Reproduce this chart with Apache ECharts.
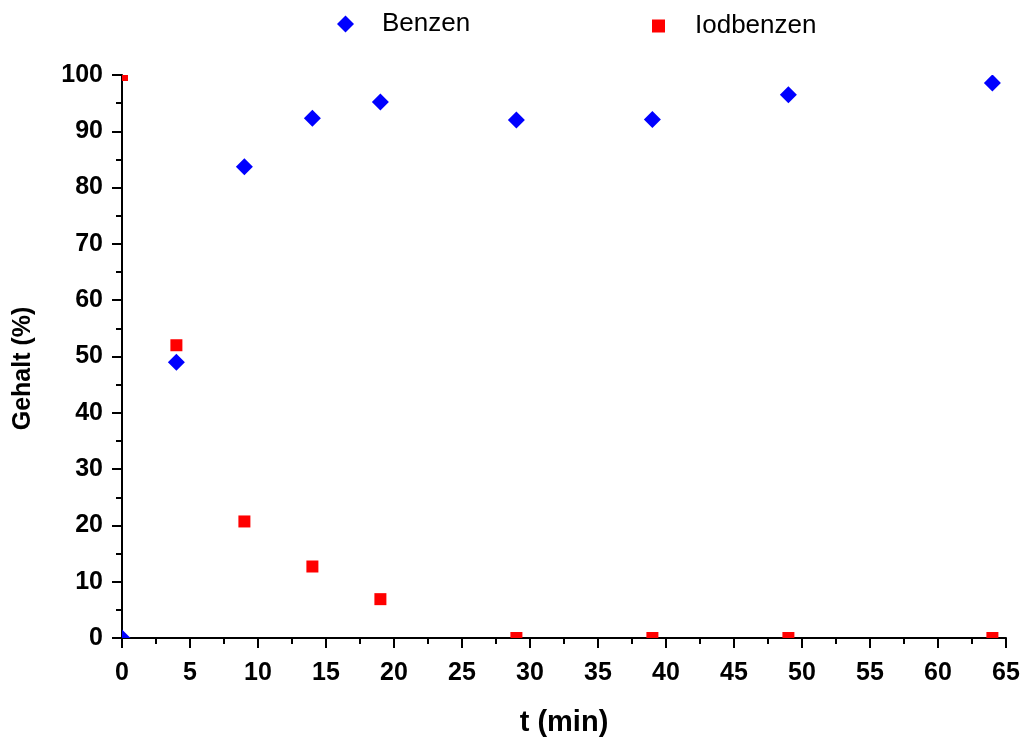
<!DOCTYPE html>
<html>
<head>
<meta charset="utf-8">
<script src="https://cdn.jsdelivr.net/npm/echarts@6/dist/echarts.min.js"></script>
<style>html,body{margin:0;padding:0;background:#fff}#c{width:1030px;height:742px}</style>
</head>
<body>
<div id="c"></div>
<script>
var times = [0, 4, 9, 14, 19, 29, 39, 49, 64];
var benzen = [0, 49.0, 83.7, 92.3, 95.2, 92.0, 92.1, 96.5, 98.6];
var iodbenzen = [100, 52.0, 20.7, 12.7, 6.9, 0, 0, 0, 0];
var seriesNames = ['Benzen', 'Iodbenzen'];
var xName = 't (min)';
var yName = 'Gehalt (%)';

function pairs(xs, ys) { return xs.map(function (x, i) { return [x, ys[i]]; }); }

function diamondItem(size, color) {
  return function (params, api) {
    var p = api.coord([api.value(0), api.value(1)]);
    var h = size / 2;
    return { type: 'polygon', shape: { points: [[p[0], p[1] - h], [p[0] + h, p[1]], [p[0], p[1] + h], [p[0] - h, p[1]]] },
      style: { fill: color } };
  };
}
function rectItem(size, color) {
  return function (params, api) {
    var p = api.coord([api.value(0), api.value(1)]);
    return { type: 'rect', shape: { x: p[0] - size / 2, y: p[1] - size / 2, width: size, height: size },
      style: { fill: color } };
  };
}

var chart = echarts.init(document.getElementById('c'));
var font = 'Liberation Sans, Arial, sans-serif';
var axisCommon = {
  axisLine: { show: true, onZero: false, lineStyle: { color: '#000', width: 2 } },
  axisTick: { show: true, inside: false, length: 10, lineStyle: { color: '#000', width: 2 } },
  minorTick: { show: true, splitNumber: 2, length: 6, lineStyle: { color: '#000', width: 2 } },
  splitLine: { show: false }
};
chart.setOption({
  animation: false,
  backgroundColor: '#fff',
  grid: { left: 122, right: 24, top: 75, bottom: 101 },
  legend: [{
    top: 6, left: 332,
    itemWidth: 17, itemHeight: 17,
    textStyle: { fontFamily: font, fontSize: 26, color: '#000', padding: [0, 0, 0, 23] },
    data: [{ name: seriesNames[0], icon: 'diamond' }]
  }, {
    top: 8, left: 647,
    itemWidth: 13, itemHeight: 13,
    textStyle: { fontFamily: font, fontSize: 26, color: '#000', padding: [0, 0, 0, 25] },
    data: [{ name: seriesNames[1], icon: 'rect' }]
  }],
  xAxis: Object.assign({
    type: 'value', min: 0, max: 65, interval: 5,
    name: xName, nameLocation: 'middle', nameGap: 70,
    nameTextStyle: { fontFamily: font, fontSize: 29, fontWeight: 'bold', color: '#000' },
    axisLabel: { margin: 23, fontFamily: font, fontSize: 25, fontWeight: 'bold', color: '#000' }
  }, axisCommon),
  yAxis: Object.assign({
    type: 'value', min: 0, max: 100, interval: 10,
    name: yName, nameLocation: 'middle', nameGap: 86,
    nameTextStyle: { fontFamily: font, fontSize: 25, fontWeight: 'bold', color: '#000', padding: [0, 24, 0, 0] },
    axisLabel: { margin: 19, fontFamily: font, fontSize: 25, fontWeight: 'bold', color: '#000' }
  }, axisCommon),
  series: [
    { name: seriesNames[0], type: 'custom', clip: true, itemStyle: { color: '#0000ff' },
      renderItem: diamondItem(17, '#0000ff'), encode: { x: 0, y: 1 }, data: pairs(times, benzen) },
    { name: seriesNames[1], type: 'custom', clip: true, itemStyle: { color: '#ff0000' },
      renderItem: rectItem(12, '#ff0000'), encode: { x: 0, y: 1 }, data: pairs(times, iodbenzen) }
  ]
});
</script>
</body>
</html>
